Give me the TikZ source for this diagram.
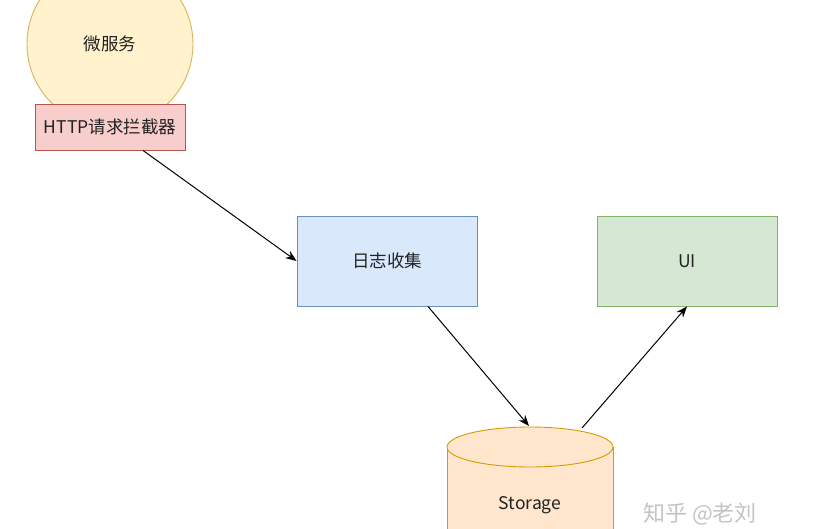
\documentclass[tikz,border=0pt]{standalone}
\usepackage{fontspec}
\setmainfont{Noto Sans CJK SC}
\usetikzlibrary{arrows.meta}
\definecolor{yfill}{HTML}{FFF2CC}\definecolor{ydraw}{HTML}{D6B656}
\definecolor{rfill}{HTML}{F8CECC}\definecolor{rdraw}{HTML}{B85450}
\definecolor{bfill}{HTML}{DAE8FC}\definecolor{bdraw}{HTML}{6C8EBF}
\definecolor{gfill}{HTML}{D5E8D4}\definecolor{gdraw}{HTML}{82B366}
\definecolor{ofill}{HTML}{FFE6CC}\definecolor{odraw}{HTML}{D79B00}
\definecolor{txt}{HTML}{222222}
\definecolor{wm}{HTML}{C4C4C4}
\tikzset{
  lbl/.style={font=\fontsize{17.5}{21}\selectfont, text=txt},
  box/.style={rectangle, draw, line width=0.9pt, minimum width=180pt, minimum height=90pt, inner sep=0pt, lbl},
  conn/.style={-{Stealth[length=11pt,width=8.5pt]}, line width=1pt, black},
}
\begin{document}
\begin{tikzpicture}[x=1pt,y=-1pt]
\useasboundingbox (0,0) rectangle (840,528);
\clip (0,0) rectangle (840,528);
\fill[white] (0,0) rectangle (840,528);
% microservice circle
\node[circle, draw=ydraw, fill=yfill, line width=0.9pt, minimum size=166pt, inner sep=0pt, lbl] (ms) at (110,44) {微服务};
% interceptor
\node[rectangle, draw=rdraw, fill=rfill, line width=0.9pt, minimum width=150pt, minimum height=46pt,
      inner sep=0pt, lbl] (http) at (110,127) {HTTP请求拦截器};
% log collection
\node[box, draw=bdraw, fill=bfill] (log) at (387,261) {日志收集};
% UI
\node[box, draw=gdraw, fill=gfill] (ui) at (687,261) {UI};
% storage cylinder
\fill[ofill] (447,447) rectangle (613,545);
\draw[odraw, line width=0.9pt] (447,447) -- (447,545) (613,447) -- (613,545);
\draw[odraw, fill=ofill, line width=0.9pt] (530,447) ellipse [x radius=83, y radius=20];
\coordinate (sttop) at (529,426);
\coordinate (stback) at (582,428);
\node[lbl] (st) at (530,505) {Storage};
% connectors
\draw[conn] ([xshift=33pt]http.south) -- (log.west);
\draw[conn] ([xshift=41pt]log.south) -- (sttop);
\draw (stback) edge[conn] (ui.south);
% watermark
\node[font=\fontsize{22}{26}\selectfont, text=wm] (wmk) at (700,514) {知乎 @老刘};
\end{tikzpicture}
\end{document}
